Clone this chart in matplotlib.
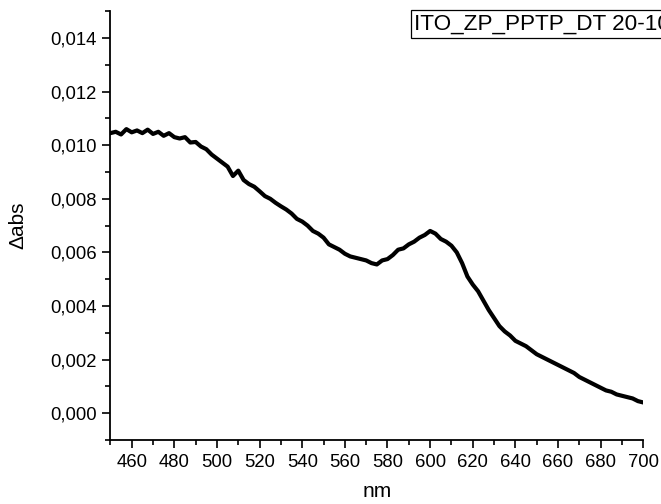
import matplotlib
matplotlib.use("Agg")
import matplotlib.pyplot as plt
from matplotlib.ticker import MultipleLocator, FuncFormatter

plt.rcParams['font.family'] = ['Liberation Sans', 'DejaVu Sans']

wavelength = [450, 452.5, 455, 457.5, 460, 462.5, 465, 467.5, 470, 472.5,
              475, 477.5, 480, 482.5, 485, 487.5, 490, 492.5, 495, 497.5,
              500, 502.5, 505, 507.5, 510, 512.5, 515, 517.5, 520, 522.5,
              525, 527.5, 530, 532.5, 535, 537.5, 540, 542.5, 545, 547.5,
              550, 552.5, 555, 557.5, 560, 562.5, 565, 567.5, 570, 572.5,
              575, 577.5, 580, 582.5, 585, 587.5, 590, 592.5, 595, 597.5,
              600, 602.5, 605, 607.5, 610, 612.5, 615, 617.5, 620, 622.5,
              625, 627.5, 630, 632.5, 635, 637.5, 640, 642.5, 645, 647.5,
              650, 652.5, 655, 657.5, 660, 662.5, 665, 667.5, 670, 672.5,
              675, 677.5, 680, 682.5, 685, 687.5, 690, 692.5, 695, 697.5, 700]
delta_abs = [0.01045, 0.01050, 0.01040, 0.01060, 0.01048, 0.01055, 0.01045, 0.01058, 0.01042, 0.01050,
             0.01035, 0.01045, 0.01030, 0.01025, 0.01030, 0.01010, 0.01012, 0.00995, 0.00985, 0.00965,
             0.00950, 0.00935, 0.00920, 0.00885, 0.00905, 0.00870, 0.00855, 0.00845, 0.00828, 0.00810,
             0.00800, 0.00785, 0.00772, 0.00760, 0.00745, 0.00725, 0.00715, 0.00700, 0.00680, 0.00670,
             0.00655, 0.00630, 0.00620, 0.00610, 0.00595, 0.00585, 0.00580, 0.00575, 0.00570, 0.00560,
             0.00555, 0.00570, 0.00575, 0.00590, 0.00610, 0.00615, 0.00630, 0.00640, 0.00655, 0.00665,
             0.00680, 0.00670, 0.00650, 0.00640, 0.00625, 0.00600, 0.00560, 0.00510, 0.00480, 0.00455,
             0.00420, 0.00385, 0.00355, 0.00325, 0.00305, 0.00290, 0.00270, 0.00260, 0.00250, 0.00235,
             0.00220, 0.00210, 0.00200, 0.00190, 0.00180, 0.00170, 0.00160, 0.00150, 0.00135, 0.00125,
             0.00115, 0.00105, 0.00095, 0.00085, 0.00080, 0.00070, 0.00065, 0.00060, 0.00055, 0.00045, 0.00040]
legend_label = "ITO_ZP_PPTP_DT 20-10"

fig = plt.figure(figsize=(6.61, 5.04), dpi=100)
ax = fig.add_axes([0.1670, 0.1270, 0.9732 - 0.1670, 0.9778 - 0.1270])
ax.plot(wavelength, delta_abs, color='black', lw=3.0, solid_joinstyle='round')

ax.set_xlim(450, 700)
ax.set_ylim(-0.001, 0.015)
ax.xaxis.set_minor_locator(MultipleLocator(10))
ax.yaxis.set_minor_locator(MultipleLocator(0.001))
ax.set_xticks([460, 480, 500, 520, 540, 560, 580, 600, 620, 640, 660, 680, 700])
ax.set_yticks([0.000, 0.002, 0.004, 0.006, 0.008, 0.010, 0.012, 0.014])
ax.yaxis.set_major_formatter(FuncFormatter(lambda v, p: f"{v:.3f}".replace('.', ',')))

for s in ['top', 'right']:
    ax.spines[s].set_visible(False)
for s in ['left', 'bottom']:
    ax.spines[s].set_linewidth(1.3)

ax.tick_params(which='major', direction='out', length=6, width=1.2, labelsize=13.3, pad=4)
ax.tick_params(which='minor', direction='out', length=3.5, width=1.2)

ax.set_xlabel("nm", fontsize=15, labelpad=8)
ax.set_ylabel("Δabs", fontsize=15, labelpad=16)

fig.text(414 / 661, 1 - 24 / 504, legend_label, fontsize=16.2, va='center', ha='left',
         bbox=dict(boxstyle='square,pad=0.15', facecolor='white', edgecolor='black', lw=0.9))

fig.savefig('out.png', dpi=100)
